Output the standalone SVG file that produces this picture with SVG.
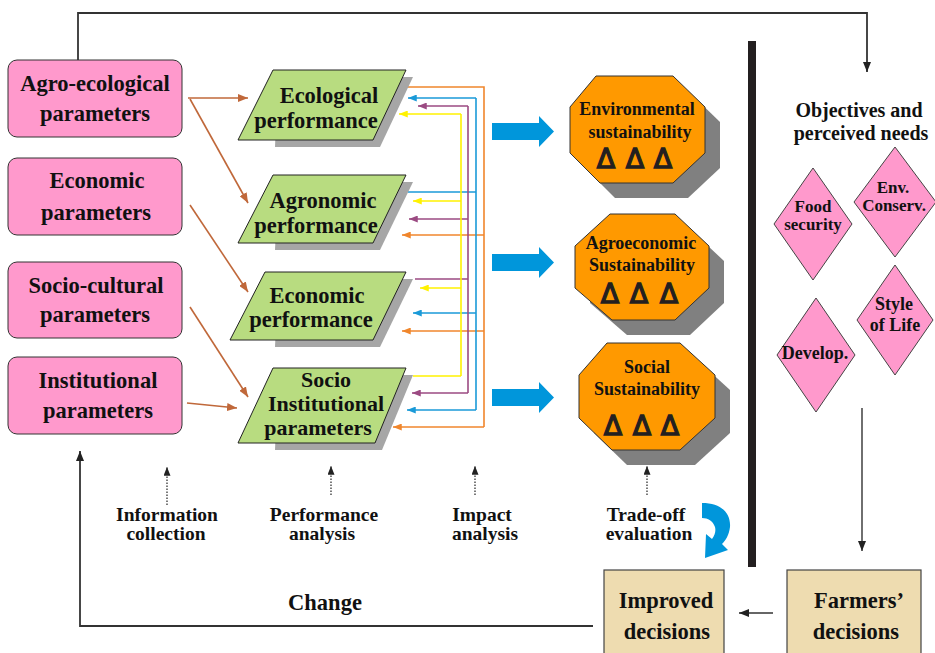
<svg xmlns="http://www.w3.org/2000/svg" width="935" height="653" viewBox="0 0 935 653">
<style>
text{font-family:"Liberation Serif","Times New Roman",serif;font-weight:bold;fill:#111;text-anchor:middle}
.t22{font-size:22.5px}
.t21{font-size:22px}
.t20{font-size:20px}
.t19{font-size:19.5px}
.t18{font-size:18px}
.t17{font-size:17px}
.o18{font-size:18px}
.tri{font-family:"DejaVu Sans",sans-serif;font-weight:normal;font-size:27px;fill:#231f20;stroke:#231f20;stroke-width:1.3}
.pink{fill:#ff99cc;stroke:#333;stroke-width:1}
.para{fill:#b8dc80;stroke:#222;stroke-width:1}
.psh{fill:#a6a6a6}
.oct{fill:#ff9900;stroke:#333;stroke-width:1}
.osh{fill:#808080}
.dia{fill:#ff99cc;stroke:#444;stroke-width:1}
.tan{fill:#eedcb0;stroke:#444;stroke-width:1.2}
.br{stroke:#c0683a;stroke-width:1.6;fill:none}
.or{stroke:#f0862c;stroke-width:1.6;fill:none}
.bl{stroke:#1a9ad8;stroke-width:1.6;fill:none}
.pu{stroke:#9b4a82;stroke-width:1.6;fill:none}
.ye{stroke:#fff200;stroke-width:1.6;fill:none}
.dk{stroke:#333;stroke-width:1.8;fill:none}
.dot{stroke:#333;stroke-width:1.3;stroke-dasharray:1.5 1.5;fill:none}
.barr{fill:#0096db}
</style>
<defs>
<marker id="m-br" viewBox="0 0 10 8" refX="10" refY="4" markerWidth="10" markerHeight="8" markerUnits="userSpaceOnUse" orient="auto"><path d="M0,0 L10,4 L0,8 z" fill="#c0683a"/></marker>
<marker id="m-or" viewBox="0 0 10 8" refX="10" refY="4" markerWidth="9" markerHeight="7" markerUnits="userSpaceOnUse" orient="auto"><path d="M0,0 L10,4 L0,8 z" fill="#f0862c"/></marker>
<marker id="m-bl" viewBox="0 0 10 8" refX="10" refY="4" markerWidth="9" markerHeight="7" markerUnits="userSpaceOnUse" orient="auto"><path d="M0,0 L10,4 L0,8 z" fill="#1a9ad8"/></marker>
<marker id="m-pu" viewBox="0 0 10 8" refX="10" refY="4" markerWidth="9" markerHeight="7" markerUnits="userSpaceOnUse" orient="auto"><path d="M0,0 L10,4 L0,8 z" fill="#9b4a82"/></marker>
<marker id="m-ye" viewBox="0 0 10 8" refX="10" refY="4" markerWidth="9" markerHeight="7" markerUnits="userSpaceOnUse" orient="auto"><path d="M0,0 L10,4 L0,8 z" fill="#fff200"/></marker>
<marker id="m-dk" viewBox="0 0 10 8" refX="10" refY="4" markerWidth="10" markerHeight="8" markerUnits="userSpaceOnUse" orient="auto"><path d="M0,0 L10,4 L0,8 z" fill="#222"/></marker>
<marker id="m-dt" viewBox="0 0 10 8" refX="10" refY="4" markerWidth="9" markerHeight="7" markerUnits="userSpaceOnUse" orient="auto"><path d="M0,0 L10,4 L0,8 z" fill="#222"/></marker>
</defs>
<rect width="935" height="653" fill="#fff"/>

<g id="connectors">
<path class="dk" d="M78,60 V13 H867 V72" marker-end="url(#m-dk)"/>
<path class="br" d="M188,98 L248,98" marker-end="url(#m-br)"/>
<path class="br" d="M190,99 L248,203" marker-end="url(#m-br)"/>
<path class="br" d="M190,205 L248,292" marker-end="url(#m-br)"/>
<path class="br" d="M190,307 L248,397" marker-end="url(#m-br)"/>
<path class="br" d="M187,403 L237,408" marker-end="url(#m-br)"/>
<path class="or" d="M407,87 H484 V427"/>
<path class="or" d="M484,235 H402" marker-end="url(#m-or)"/>
<path class="or" d="M484,331 H402" marker-end="url(#m-or)"/>
<path class="or" d="M484,427 H393" marker-end="url(#m-or)"/>
<path class="bl" d="M408,192 H476"/>
<path class="bl" d="M476,98 V410"/>
<path class="bl" d="M476,98 H408" marker-end="url(#m-bl)"/>
<path class="bl" d="M476,313 H413" marker-end="url(#m-bl)"/>
<path class="bl" d="M476,410 H407" marker-end="url(#m-bl)"/>
<path class="pu" d="M415,279 H468"/>
<path class="pu" d="M468,106 V393"/>
<path class="pu" d="M468,106 H418" marker-end="url(#m-pu)"/>
<path class="pu" d="M468,219 H409" marker-end="url(#m-pu)"/>
<path class="pu" d="M468,393 H412" marker-end="url(#m-pu)"/>
<path class="ye" d="M413,376 H461"/>
<path class="ye" d="M461,114 V376"/>
<path class="ye" d="M461,114 H399" marker-end="url(#m-ye)"/>
<path class="ye" d="M461,201 H413" marker-end="url(#m-ye)"/>
<path class="ye" d="M461,288 H420" marker-end="url(#m-ye)"/>
<path class="barr" d="M492,123 H539 V116 L554,131.5 L539,147 V140 H492 Z"/>
<path class="barr" d="M492,254 H539 V247 L554,262.5 L539,278 V271 H492 Z"/>
<path class="barr" d="M492,389 H539 V382 L554,397.5 L539,413 V406 H492 Z"/>
<path class="dot" d="M167,505 V467" marker-end="url(#m-dt)"/>
<path class="dot" d="M331,495 V466" marker-end="url(#m-dt)"/>
<path class="dot" d="M475,495 V466" marker-end="url(#m-dt)"/>
<path class="dot" d="M647,495 V466" marker-end="url(#m-dt)"/>
<path class="barr" d="M702,503 C721,503 731,513 730,527 C729,535 726,540 722,544 L728,550 L705,558 L706,534 L712,539 C715,535 716,531 715,527 C713,521 708,518 702,518 Z"/>
<path class="dk" d="M862,408 V551" marker-end="url(#m-dk)" style="stroke-width:1.4"/>
<path class="dk" d="M773,613 H739" marker-end="url(#m-dk)" style="stroke-width:1.4"/>
<path class="dk" d="M593,626 H80 V451" marker-end="url(#m-dk)"/>
</g>

<rect id="divider" x="748" y="41" width="8" height="526" fill="#231f20"/>

<g id="agro-ecological">
<rect class="pink" x="8" y="60" width="174" height="77" rx="9"/>
<text class="t22" x="95" y="91">Agro-ecological</text>
<text class="t22" x="95" y="121">parameters</text>
</g>
<g id="economic">
<rect class="pink" x="8" y="158" width="174" height="77" rx="9"/>
<text class="t22" x="97" y="188">Economic</text>
<text class="t22" x="96" y="220">parameters</text>
</g>
<g id="socio-cultural">
<rect class="pink" x="8" y="262" width="174" height="76" rx="9"/>
<text class="t22" x="96" y="293">Socio-cultural</text>
<text class="t22" x="95" y="322">parameters</text>
</g>
<g id="institutional">
<rect class="pink" x="8" y="357" width="174" height="77" rx="9"/>
<text class="t22" x="98" y="388">Institutional</text>
<text class="t22" x="98" y="418">parameters</text>
</g>

<g id="ecological-performance">
<polygon class="psh" points="278,77 413,77 380,147 275,147"/>
<polygon class="para" points="273,70 406,70 373,140 238,140"/>
<text class="t22" x="329" y="103">Ecological</text>
<text class="t22" x="316" y="128">performance</text>
</g>
<g id="agronomic-performance">
<polygon class="psh" points="278,182 413,182 380,250 275,250"/>
<polygon class="para" points="273,175 406,175 373,243 238,243"/>
<text class="t22" x="323" y="208">Agronomic</text>
<text class="t22" x="316" y="233">performance</text>
</g>
<g id="economic-performance">
<polygon class="psh" points="278,279 413,279 380,347 275,347"/>
<polygon class="para" points="265,272 406,272 373,340 230,340"/>
<text class="t22" x="317" y="303">Economic</text>
<text class="t22" x="311" y="327">performance</text>
</g>
<g id="socio-institutional">
<polygon class="psh" points="278,375 413,375 382,450 275,450"/>
<polygon class="para" points="273,368 406,368 375,443 238,443"/>
<text class="t21" x="326" y="387">Socio</text>
<text class="t21" x="326" y="411">Institutional</text>
<text class="t21" x="318" y="435">parameters</text>
</g>

<g id="environmental-sustainability">
<polygon class="osh" points="611,91 688,91 720,122 720,168 688,198 615,198 585,168 585,122"/>
<polygon class="oct" points="596,76 673,76 705,107 705,153 673,183 600,183 570,153 570,107"/>
<text class="o18" x="637" y="115">Environmental</text>
<text class="o18" x="640" y="138">sustainability</text>
<text class="tri" x="606" y="168">Δ</text>
<text class="tri" x="635" y="168">Δ</text>
<text class="tri" x="663" y="168">Δ</text>
</g>
<g id="agroeconomic-sustainability">
<polygon class="osh" points="625,229 690,229 724,261 724,303 690,335 627,335 590,303 590,261"/>
<polygon class="oct" points="610,214 675,214 709,246 709,288 675,320 612,320 575,288 575,246"/>
<text class="o18" x="641" y="249">Agroeconomic</text>
<text class="o18" x="642" y="271">Sustainability</text>
<text class="tri" x="610" y="303">Δ</text>
<text class="tri" x="639" y="303">Δ</text>
<text class="tri" x="669" y="303">Δ</text>
</g>
<g id="social-sustainability">
<polygon class="osh" points="622,358 695,358 730,390 730,433 695,465 627,465 594,433 594,390"/>
<polygon class="oct" points="607,343 680,343 715,375 715,418 680,450 612,450 579,418 579,375"/>
<text class="o18" x="647" y="373">Social</text>
<text class="o18" x="647" y="395">Sustainability</text>
<text class="tri" x="613" y="435">Δ</text>
<text class="tri" x="642" y="435">Δ</text>
<text class="tri" x="670" y="435">Δ</text>
</g>

<g id="objectives">
<text class="t20" x="859" y="117">Objectives and</text>
<text class="t20" x="861" y="140">perceived needs</text>
</g>
<g id="food-security">
<polygon class="dia" points="813,168 852,224 813,280 774,224"/>
<text class="t17" x="813" y="212">Food</text>
<text class="t17" x="813" y="230">security</text>
</g>
<g id="env-conserv">
<polygon class="dia" points="895,147 936,202 895,257 854,202"/>
<text class="t17" x="893" y="193">Env.</text>
<text class="t17" x="894" y="211">Conserv.</text>
</g>
<g id="style-of-life">
<polygon class="dia" points="895,265 933,320 895,375 857,320"/>
<text class="t18" x="894" y="310">Style</text>
<text class="t18" x="895" y="331">of Life</text>
</g>
<g id="develop">
<polygon class="dia" points="816,298 855,355 816,412 777,355"/>
<text class="t18" x="815" y="359">Develop.</text>
</g>

<g id="farmers-decisions">
<rect class="tan" x="787" y="570" width="134" height="95"/>
<text class="t22" x="859" y="608">Farmers’</text>
<text class="t22" x="856" y="639">decisions</text>
</g>
<g id="improved-decisions">
<rect class="tan" x="604" y="570" width="120" height="95"/>
<text class="t22" x="666" y="608">Improved</text>
<text class="t22" x="667" y="639">decisions</text>
</g>

<g id="labels">
<text class="t19" x="167" y="521">Information</text>
<text class="t19" x="166" y="540">collection</text>
<text class="t19" x="324" y="521">Performance</text>
<text class="t19" x="322" y="540">analysis</text>
<text class="t19" x="482" y="521">Impact</text>
<text class="t19" x="485" y="540">analysis</text>
<text class="t19" x="646" y="521">Trade-off</text>
<text class="t19" x="649" y="540">evaluation</text>
<text class="t22" x="325" y="610">Change</text>
</g>
</svg>
